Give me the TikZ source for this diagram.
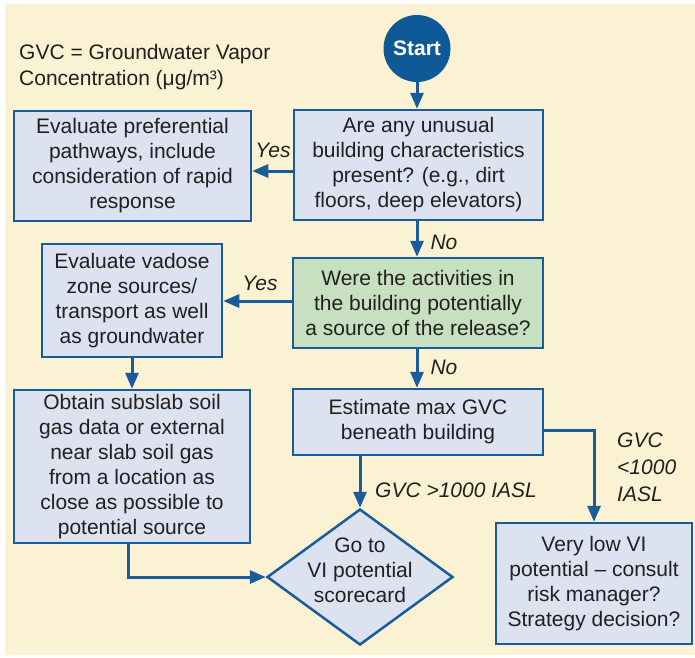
\documentclass[tikz,border=0pt]{standalone}
\usepackage{fontspec}
\setmainfont{Liberation Sans}
\usetikzlibrary{shapes.geometric,arrows.meta}
\definecolor{cream}{HTML}{FAF2D2}
\definecolor{boxfill}{HTML}{DCE2F0}
\definecolor{greenfill}{HTML}{C7E0C0}
\definecolor{bblue}{HTML}{1A5C99}
\definecolor{startblue}{HTML}{0F5A96}
\definecolor{txt}{HTML}{231F20}
\begin{document}
\begin{tikzpicture}[x=1pt,y=-1pt,
  every node/.style={text=txt},
  mainfont/.style={font=\fontsize{21}{25}\selectfont},
  box/.style={mainfont, draw=bblue, line width=2.5pt, fill=boxfill, align=center, inner sep=0pt},
  greenbox/.style={box, fill=greenfill},
  diam/.style={draw=bblue, line width=2.5pt, fill=boxfill, diamond, inner sep=0pt},
  startnode/.style={circle, fill=startblue, minimum size=67pt, inner sep=0pt, text=white, font=\fontsize{21}{24}\selectfont\bfseries},
  arr/.style={draw=bblue, line width=3pt, -{Triangle[length=16pt,width=13pt]}},
  lbl/.style={font=\fontsize{21}{27}\selectfont\itshape, inner sep=0pt},
  note/.style={font=\fontsize{21}{26}\selectfont, align=left, inner sep=0pt}
]
\useasboundingbox (0,0) rectangle (695,657);
\fill[cream] (5,4) rectangle (695,655);

\node[note, anchor=west] (note) at (19,67) {GVC = Groundwater Vapor\\Concentration (μg/m³)};

\node[startnode] (start) at (417,48.5) {Start};
\node[box, minimum width=249pt, minimum height=110pt] (q1) at (418.5,165) {Are any unusual\\building characteristics\\present? (e.g., dirt\\floors, deep elevators)};
\node[box, minimum width=237pt, minimum height=110pt] (pref) at (132.5,166) {Evaluate preferential\\pathways, include\\consideration of rapid\\response};
\node[greenbox, minimum width=250pt, minimum height=90pt] (q2) at (418,303) {Were the activities in\\the building potentially\\a source of the release?};
\node[box, minimum width=180pt, minimum height=113pt] (vad) at (132,300.5) {Evaluate vadose\\zone sources/\\transport as well\\as groundwater};
\node[box, minimum width=236pt, minimum height=153pt] (obt) at (132,466.5) {Obtain subslab soil\\gas data or external\\near slab soil gas\\from a location as\\close as possible to\\potential source};
\node[box, minimum width=250pt, minimum height=66pt] (est) at (418,422) {Estimate max GVC\\beneath building};
\node[diam, minimum width=186pt, minimum height=136pt] (dia) at (360,577) {};
\node[mainfont, align=center, inner sep=0pt] (diatext) at ([yshift=7pt]dia.center) {Go to\\VI potential\\scorecard};
\node[box, minimum width=196pt, minimum height=121pt] (low) at (594,583.5) {Very low VI\\potential -- consult\\risk manager?\\Strategy decision?};

% connectors
\draw[arr] (start.south) -- (start.south |- q1.north);
\draw[arr] ([yshift=-6pt]q1.west) -- ([yshift=-6pt]q1.west -| pref.east);
\draw[arr] (start.south |- q1.south) -- (start.south |- q2.north);
\draw[arr] ([yshift=2pt]q2.west) -- ([yshift=2pt]q2.west -| vad.east);
\draw[arr] (vad.south) -- (vad.south |- obt.north);
\draw[arr] (start.south |- q2.south) -- (start.south |- est.north);
\draw[arr] (dia.north |- est.south) -- (dia.north);
\draw[arr] ([yshift=-8pt]est.east) -| (low.north);
\draw[arr] ([xshift=-4pt]obt.south) |- (dia.west);

% labels
\node[lbl] (yes1) at (273,150) {Yes};
\node[lbl] (yes2) at (260,283) {Yes};
\node[lbl] (no1) at (444,242) {No};
\node[lbl] (no2) at (444,367) {No};
\node[lbl, anchor=west] (gt) at (375,490) {GVC {>}1000 IASL};
\node[lbl, align=left, anchor=west] (lt) at (617,467) {GVC\\{<}1000\\IASL};
\end{tikzpicture}
\end{document}
